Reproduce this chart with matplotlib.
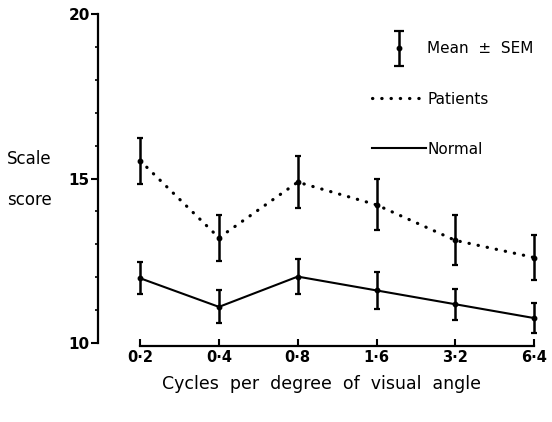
import numpy as np
import matplotlib
matplotlib.use('Agg')
import matplotlib.pyplot as plt
from matplotlib.ticker import FixedLocator, NullFormatter
from matplotlib.container import ErrorbarContainer
from matplotlib.legend_handler import HandlerErrorbar

# spatial frequency (cycles per degree) and scale scores
freq = [0.2, 0.4, 0.8, 1.6, 3.2, 6.4]
freq_labels = ['0\u00b72', '0\u00b74', '0\u00b78', '1\u00b76', '3\u00b72', '6\u00b74']
patients_mean = [15.54, 13.20, 14.89, 14.20, 13.12, 12.60]
patients_sem = [0.70, 0.70, 0.80, 0.77, 0.76, 0.68]
normal_mean = [11.97, 11.10, 12.02, 11.60, 11.18, 10.76]
normal_sem = [0.49, 0.50, 0.53, 0.55, 0.47, 0.45]

plt.rcParams['font.family'] = ['DejaVu Sans']
plt.rcParams['font.weight'] = 'bold'

fig = plt.figure(figsize=(5.52, 4.22), dpi=100)
ax = fig.add_axes([0.1775, 0.187, 0.81, 0.78])

ax.set_xscale('log', base=2)
ax.set_xlim(0.138, 7.05)
ax.set_ylim(10, 20)

# patients: dotted line
ax.plot(freq, patients_mean, color='black', linewidth=2.3,
        linestyle=(0, (0.1, 2.8)), dash_capstyle='round')
ax.errorbar(freq, patients_mean, yerr=patients_sem, fmt='o', color='black',
            markersize=3.2, elinewidth=1.8, capsize=2.4, capthick=1.6)

# normal: solid line
ax.plot(freq, normal_mean, color='black', linewidth=1.5)
ax.errorbar(freq, normal_mean, yerr=normal_sem, fmt='o', color='black',
            markersize=3.2, elinewidth=1.8, capsize=2.4, capthick=1.6)

# spines
for s in ['top', 'right']:
    ax.spines[s].set_visible(False)
ax.spines['left'].set_bounds(10, 20)
ax.spines['left'].set_linewidth(1.6)
ax.spines['bottom'].set_bounds(freq[0], freq[-1])
ax.spines['bottom'].set_position(('outward', 2))
ax.spines['bottom'].set_linewidth(1.6)

# y ticks
ax.yaxis.set_major_locator(FixedLocator([10, 15, 20]))
ax.yaxis.set_minor_locator(FixedLocator(np.arange(11, 20)))
ax.yaxis.set_minor_formatter(NullFormatter())
ax.tick_params(axis='y', which='major', direction='out', length=5, width=1.5,
               labelsize=11, pad=1)
ax.tick_params(axis='y', which='minor', direction='out', length=2, width=1.2)

# x ticks
ax.xaxis.set_major_locator(FixedLocator(freq))
ax.xaxis.set_minor_locator(FixedLocator([]))
ax.set_xticklabels(freq_labels)
ax.tick_params(axis='x', which='major', direction='in', length=5, width=1.5,
               labelsize=10.5, pad=3)
for lbl in ax.get_xticklabels() + ax.get_yticklabels():
    lbl.set_fontweight('bold')

ax.set_xlabel('Cycles  per  degree  of  visual  angle', fontsize=12.5,
              fontweight='normal', labelpad=7)

fig.text(0.012, 0.575, 'Scale\n\nscore', fontsize=12, fontweight='normal',
         va='center', ha='left', linespacing=1.2)

# legend (proxy error bar with NaN data so only its style is used)
h_sem = ax.errorbar([np.nan], [np.nan], yerr=[1.0], fmt='o', color='black',
                    markersize=3.2, elinewidth=1.8, capsize=3.5, capthick=1.6)
h_pat, = ax.plot([], [], color='black', linewidth=2.3,
                 linestyle=(0, (0.1, 2.8)), dash_capstyle='round')
h_nor, = ax.plot([], [], color='black', linewidth=1.5)
leg = ax.legend([h_sem, h_pat, h_nor], ['Mean  \u00b1  SEM', 'Patients', 'Normal'],
                loc='upper left', bbox_to_anchor=(0.60, 0.935), frameon=False,
                handlelength=3.5, handletextpad=0.1, labelspacing=2.3,
                prop={'size': 11, 'weight': 'normal'}, borderaxespad=0,
                handler_map={ErrorbarContainer: HandlerErrorbar(yerr_size=1.15)})

fig.savefig('out.png', dpi=100)
